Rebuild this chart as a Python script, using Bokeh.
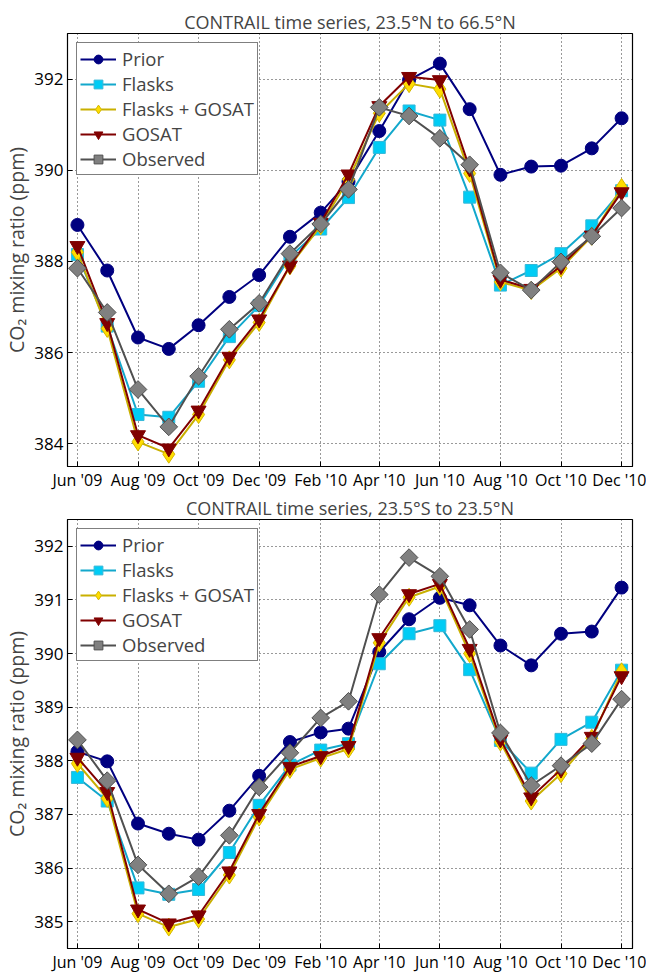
import numpy as np
import pandas as pd
from bokeh.plotting import figure
from bokeh.layouts import column
from bokeh.models import Range1d, FixedTicker, DatetimeTickFormatter, Legend, LegendItem
from bokeh.embed import file_html
from bokeh.resources import INLINE

# ---------------- data ----------------
months = ["2009-06-01", "2009-07-01", "2009-08-01", "2009-09-01", "2009-10-01",
          "2009-11-01", "2009-12-01", "2010-01-01", "2010-02-01", "2010-03-01",
          "2010-04-01", "2010-05-01", "2010-06-01", "2010-07-01", "2010-08-01",
          "2010-09-01", "2010-10-01", "2010-11-01", "2010-12-01"]
tick_months = ["2009-06-01", "2009-08-01", "2009-10-01", "2009-12-01", "2010-02-01",
               "2010-04-01", "2010-06-01", "2010-08-01", "2010-10-01", "2010-12-01"]

series_names = ["Prior", "Flasks", "Flasks + GOSAT", "GOSAT", "Observed"]

# Panel 1: 23.5N to 66.5N
prior_n = [388.80, 387.80, 386.33, 386.08, 386.60, 387.22, 387.70, 388.54, 389.07, 389.75,
           390.86, 391.98, 392.34, 391.34, 389.90, 390.08, 390.10, 390.48, 391.14]
flasks_n = [388.15, 386.58, 384.64, 384.58, 385.37, 386.35, 387.03, 388.10, 388.71, 389.40,
            390.50, 391.30, 391.10, 389.41, 387.48, 387.80, 388.17, 388.78, 389.55]
fg_n = [388.20, 386.53, 384.04, 383.77, 384.64, 385.84, 386.66, 387.90, 388.78, 389.80,
        391.25, 391.90, 391.78, 389.93, 387.55, 387.36, 387.85, 388.55, 389.62]
gosat_n = [388.34, 386.65, 384.19, 383.90, 384.73, 385.91, 386.73, 387.91, 388.85, 389.91,
           391.41, 392.05, 391.98, 390.04, 387.60, 387.40, 387.90, 388.57, 389.52]
obs_n = [387.85, 386.88, 385.19, 384.37, 385.48, 386.51, 387.08, 388.17, 388.82, 389.58,
         391.38, 391.19, 390.70, 390.12, 387.75, 387.37, 387.99, 388.55, 389.17]

# Panel 2: 23.5S to 23.5N
prior_t = [388.17, 387.99, 386.83, 386.64, 386.53, 387.07, 387.72, 388.35, 388.53, 388.60,
           390.03, 390.64, 391.04, 390.90, 390.15, 389.78, 390.37, 390.41, 391.23]
flasks_t = [387.69, 387.25, 385.63, 385.51, 385.60, 386.29, 387.17, 387.92, 388.20, 388.32,
            389.81, 390.37, 390.52, 389.70, 388.38, 387.77, 388.40, 388.72, 389.69]
fg_t = [387.95, 387.30, 385.15, 384.90, 385.05, 385.87, 386.95, 387.84, 388.05, 388.22,
        390.20, 391.05, 391.25, 390.00, 388.35, 387.25, 387.76, 388.42, 389.66]
gosat_t = [388.06, 387.42, 385.23, 384.97, 385.12, 385.94, 387.01, 387.89, 388.09, 388.28,
           390.29, 391.11, 391.30, 390.09, 388.40, 387.32, 387.84, 388.45, 389.58]
obs_t = [388.39, 387.63, 386.06, 385.52, 385.84, 386.61, 387.51, 388.15, 388.80, 389.11,
         391.10, 391.79, 391.44, 390.45, 388.52, 387.54, 387.91, 388.32, 389.15]

yticks_n = [384, 386, 388, 390, 392]
yticks_t = [385, 386, 387, 388, 389, 390, 391, 392]

# ---------------- styling ----------------
FONT = "Open Sans"
styles = [
    dict(line_color="#000080", marker="circle", fill_color="#000080", mline="#000080", size=13, angle=0.0),
    dict(line_color="#13a8cc", marker="square", fill_color="#00ccf5", mline="#35b8d8", size=12, angle=0.0),
    dict(line_color="#c9b000", marker="diamond", fill_color="#ffdd00", mline="#d4b800", size=18, angle=0.0),
    dict(line_color="#800000", marker="inverted_triangle", fill_color="#800000", mline="#800000", size=15, angle=0.0),
    dict(line_color="#505050", marker="square", fill_color="#808080", mline="#505050", size=12.5, angle=np.pi / 4),
]

x = pd.to_datetime(months)
tick_ms = [float(v) for v in (pd.to_datetime(tick_months).astype("int64") // 10**6)]


def make_panel(title, ys, yr, yticks, height, top, bottom):
    p = figure(width=646, height=height, x_axis_type="datetime",
               output_backend="svg", toolbar_location=None,
               x_range=Range1d(pd.Timestamp("2009-05-22"), pd.Timestamp("2010-12-12")),
               y_range=Range1d(*yr),
               min_border_left=67, min_border_right=14,
               min_border_top=top, min_border_bottom=bottom)
    p.title.text = title
    p.title.align = "center"
    p.title.text_font = FONT
    p.title.text_font_size = "18px"
    p.title.text_font_style = "normal"
    p.title.standoff = 0

    p.outline_line_color = "black"
    p.outline_line_width = 1.2
    p.background_fill_color = "white"
    p.border_fill_color = "white"

    p.xaxis.ticker = FixedTicker(ticks=tick_ms)
    p.xaxis.formatter = DatetimeTickFormatter(days="%b '%y", months="%b '%y", years="%b '%y")
    p.yaxis.ticker = FixedTicker(ticks=yticks)
    for ax in (p.xaxis, p.yaxis):
        ax.major_tick_in = 5
        ax.major_tick_out = 0
        ax.minor_tick_line_color = None
        ax.axis_line_color = "black"
        ax.major_tick_line_color = "black"
        ax.major_label_text_font = FONT
        ax.major_label_text_font_size = "16px"
        ax.major_label_text_color = "black"
    p.yaxis.major_label_text_font_size = "17px"
    p.xaxis.major_label_standoff = 2
    p.yaxis.major_label_standoff = 4
    p.yaxis.axis_label = "CO\u2082 mixing ratio (ppm)"
    p.yaxis.axis_label_text_font = FONT
    p.yaxis.axis_label_text_font_size = "19.5px"
    p.yaxis.axis_label_text_font_style = "normal"
    p.yaxis.axis_label_standoff = 1

    for g in (p.xgrid, p.ygrid):
        g.grid_line_color = "black"
        g.grid_line_dash = "1 3"
        g.grid_line_alpha = 0.8
        g.grid_line_width = 1

    items = []
    for name, y, st in zip(series_names, ys, styles):
        ln = p.line(x, y, line_color=st["line_color"], line_width=2)
        sc = p.scatter(x, y, marker=st["marker"], size=st["size"], angle=st["angle"],
                       fill_color=st["fill_color"], line_color=st["mline"], line_width=1)
        items.append(LegendItem(label=name, renderers=[ln, sc]))

    leg = Legend(items=items, location="top_left")
    leg.label_text_font = FONT
    leg.label_text_font_size = "18.5px"
    leg.glyph_width = 36
    leg.glyph_height = 22
    leg.label_height = 18
    leg.label_standoff = 6
    leg.spacing = 0
    leg.padding = 3
    leg.margin = 9
    leg.border_line_color = "black"
    leg.border_line_width = 1
    leg.background_fill_alpha = 1.0
    p.add_layout(leg)
    return p


p1 = make_panel("CONTRAIL time series, 23.5\u00b0N to 66.5\u00b0N",
                [prior_n, flasks_n, fg_n, gosat_n, obs_n], (383.5, 393.0), yticks_n,
                493, 33, 24)
p2 = make_panel("CONTRAIL time series, 23.5\u00b0S to 23.5\u00b0N",
                [prior_t, flasks_t, fg_t, gosat_t, obs_t], (384.5, 392.5), yticks_t,
                482, 25, 24)

layout = column(p1, p2, spacing=0)
open("out.html", "w").write(file_html(layout, INLINE))
